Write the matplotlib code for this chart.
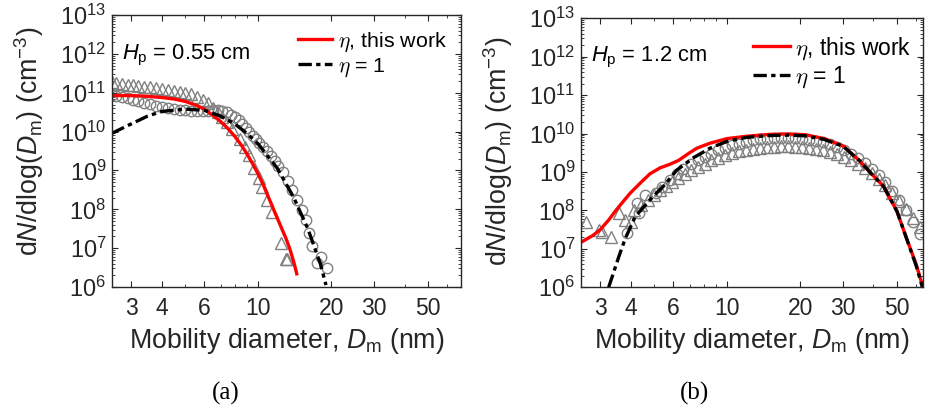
import numpy as np
import matplotlib
matplotlib.use("Agg")
import matplotlib.pyplot as plt
from matplotlib.font_manager import FontProperties
from matplotlib.ticker import FixedLocator, NullFormatter, LogLocator

plt.rcParams['font.family'] = 'Liberation Sans'
plt.rcParams['mathtext.fontset'] = 'custom'
plt.rcParams['mathtext.rm'] = 'Liberation Sans'
plt.rcParams['mathtext.it'] = 'Liberation Sans:italic'
plt.rcParams['axes.linewidth'] = 1.0

# ---- panel (a): Hp = 0.55 cm, values are log10(dN/dlogDm) ----
tri_a_d = [2.5, 2.6, 2.75, 2.9, 3.05, 3.2, 3.4, 3.6, 3.8, 4.0, 4.25, 4.5, 4.75,
           5.0, 5.3, 5.6, 5.9, 6.2, 6.5, 6.8, 7.1, 7.4, 7.8, 8.4, 8.8, 9.2,
           9.6, 10.1, 10.4, 10.9, 11.4, 12.4, 13.0, 13.1]
tri_a_log = [11.27, 11.25, 11.23, 11.21, 11.19, 11.17, 11.15, 11.14, 11.12, 11.10,
             11.08, 11.05, 11.03, 11.00, 10.97, 10.90, 10.82, 10.73, 10.60, 10.50,
             10.38, 10.24, 10.06, 9.80, 9.60, 9.39, 9.06, 8.80, 8.57, 8.24, 7.93,
             7.13, 6.72, 6.72]

cir_a_d = [2.5, 2.6, 2.75, 2.9, 3.05, 3.2, 3.4, 3.6, 3.8, 4.0, 4.25, 4.5, 4.75,
           5.0, 5.3, 5.6, 5.9, 6.2, 6.5, 6.8, 7.1, 7.4, 7.7, 8.0, 8.3, 8.6, 8.9,
           9.2, 9.5, 9.8, 10.1, 10.5, 10.9, 11.3, 11.7, 12.1, 12.6, 13.2, 13.8,
           14.5, 15.2, 15.7, 16.1, 16.7, 17.5, 18.2, 19.2]
cir_a_log = [10.95, 10.93, 10.90, 10.86, 10.82, 10.78, 10.74, 10.70, 10.66, 10.63,
             10.60, 10.58, 10.56, 10.55, 10.54, 10.53, 10.53, 10.54, 10.56, 10.56,
             10.54, 10.50, 10.44, 10.37, 10.29, 10.20, 10.10, 10.00, 9.90, 9.82,
             9.72, 9.60, 9.50, 9.38, 9.25, 9.12, 8.95, 8.72, 8.50, 8.25, 7.98,
             7.72, 7.40, 7.05, 6.62, 6.77, 6.49]

red_a_d = [2.5, 3.0, 3.5, 4.0, 4.5, 5.0, 5.5, 6.0, 6.5, 7.0, 7.5, 8.0, 8.5, 9.0,
           9.5, 10.0, 10.5, 11.0, 11.5, 12.0, 12.5, 13.0, 13.5, 14.0, 14.4]
red_a_log = [10.93, 10.93, 10.91, 10.88, 10.84, 10.78, 10.69, 10.58, 10.42, 10.26,
             10.08, 9.88, 9.66, 9.42, 9.16, 8.90, 8.62, 8.32, 8.03, 7.76, 7.50,
             7.25, 6.97, 6.64, 6.34]

blk_a_d = [2.5, 3.0, 3.5, 4.0, 5.0, 6.0, 7.0, 8.0, 9.0, 10.0, 12.0, 14.0, 16.0, 18.0, 19.0]
blk_a_log = [9.96, 10.20, 10.40, 10.52, 10.58, 10.55, 10.40, 10.20, 9.95, 9.68,
             9.05, 8.30, 7.50, 6.60, 6.05]

# ---- panel (b): Hp = 1.2 cm ----
tri_b_d = [2.61, 2.96, 3.06, 3.31, 3.58, 3.81, 4.0, 4.12, 4.4, 4.7, 5.0, 5.3, 5.6,
           5.9, 6.3, 6.7, 7.1, 7.6, 8.1, 8.6, 9.2, 9.8, 10.5, 11.2, 12.0, 12.8,
           13.7, 14.6, 15.6, 16.7, 17.8, 19.0, 20.3, 21.7, 23.2, 24.8, 26.5, 28.3,
           30.2, 32.3, 34.5, 36.8, 39.3, 42.0, 44.8, 47.9, 51.1, 54.6, 58.3, 62.3]
tri_b_log = [7.71, 7.50, 7.45, 7.32, 7.93, 7.76, 7.71, 8.02, 8.15, 8.27, 8.40, 8.52,
             8.63, 8.74, 8.85, 8.96, 9.05, 9.14, 9.22, 9.30, 9.37, 9.43, 9.49, 9.54,
             9.58, 9.61, 9.63, 9.65, 9.66, 9.67, 9.67, 9.66, 9.65, 9.63, 9.60, 9.57,
             9.52, 9.47, 9.40, 9.31, 9.21, 9.10, 8.97, 8.82, 8.65, 8.46, 8.25, 8.03,
             7.80, 7.56]

cir_b_d = [3.88, 4.26, 4.33, 4.6, 5.07, 5.4, 5.8, 6.2, 6.6, 7.1, 7.6, 8.1, 8.6, 9.2,
           9.8, 10.5, 11.2, 12.0, 12.8, 13.7, 14.6, 15.6, 16.7, 17.8, 19.0, 20.3,
           21.7, 23.2, 24.8, 26.5, 28.3, 30.2, 32.3, 34.5, 36.8, 39.3, 42.0, 44.8,
           47.9, 51.1, 54.6, 58.3, 62.3]
cir_b_log = [7.41, 8.20, 7.93, 8.41, 8.46, 8.62, 8.80, 8.95, 9.07, 9.20, 9.30, 9.40,
             9.48, 9.56, 9.63, 9.69, 9.74, 9.78, 9.82, 9.85, 9.87, 9.88, 9.89, 9.89,
             9.88, 9.86, 9.84, 9.81, 9.77, 9.72, 9.65, 9.57, 9.48, 9.37, 9.24, 9.09,
             8.92, 8.73, 8.51, 8.27, 8.00, 7.70, 7.38]

red_b_d = [2.5, 2.8, 3.0, 3.25, 3.5, 3.75, 4.0, 4.4, 4.8, 5.3, 5.8, 6.3, 7.0, 7.5,
           8.5, 10.0, 12.0, 15.0, 18.0, 21.0, 25.0, 30.0, 35.0, 40.0, 44.0, 50.0,
           55.0, 60.0, 64.0]
red_b_log = [7.17, 7.35, 7.50, 7.75, 8.02, 8.25, 8.46, 8.72, 8.95, 9.11, 9.20, 9.30,
             9.50, 9.62, 9.75, 9.87, 9.93, 9.98, 9.99, 9.97, 9.87, 9.68, 9.30, 8.90,
             8.63, 7.98, 7.24, 6.60, 6.00]

blk_b_d = [3.25, 3.58, 3.81, 4.19, 4.9, 5.5, 6.2, 7.3, 8.5, 10.0, 12.0, 15.0, 18.0,
           21.0, 25.0, 30.0, 35.0, 40.0, 44.0, 50.0, 55.0, 60.0, 64.0]
blk_b_log = [6.00, 6.80, 7.28, 7.85, 8.33, 8.65, 9.05, 9.38, 9.62, 9.80, 9.90, 9.95,
             9.96, 9.94, 9.85, 9.67, 9.30, 8.90, 8.63, 7.98, 7.24, 6.56, 5.95]

xticks = [3, 4, 6, 10, 20, 30, 50]
gray = '#808080'
axcol = '#262626'

fig = plt.figure(figsize=(9.25, 4.12), dpi=100)
ax_a = fig.add_axes([0.1211, 0.3034, 0.3773, 0.6598])
ax_b = fig.add_axes([0.6281, 0.3027, 0.3697, 0.6529])

# axes, data, Hp text, x range, tag + its x, legend size/anchor, label spots
panels = [
    (ax_a, tri_a_d, tri_a_log, cir_a_d, cir_a_log, red_a_d, red_a_log,
     blk_a_d, blk_a_log, r'$H_{\rm p}$ = 0.55 cm', (2.5, 68.3), '(a)', 0.244,
     15.4, (0.533, 0.945), (-0.212, 0.535), -0.224),
    (ax_b, tri_b_d, tri_b_log, cir_b_d, cir_b_log, red_b_d, red_b_log,
     blk_b_d, blk_b_log, r'$H_{\rm p}$ = 1.2 cm', (2.5, 64.0), '(b)', 0.751,
     16.5, (0.503, 0.937), (-0.216, 0.505), -0.226),
]

for (ax, td, tl, cd, cl, rd, rl, bd, bl, hp, xl, tag, tag_x,
     legsize, leganchor, ylab_xy, xlab_y) in panels:
    ax.plot(td, 10 ** np.array(tl), linestyle='none', marker='^', ms=8,
            mfc='none', mec=gray, mew=1.0)
    ax.plot(cd, 10 ** np.array(cl), linestyle='none', marker='o', ms=7.5,
            mfc='none', mec=gray, mew=1.0)
    ax.plot(rd, 10 ** np.array(rl), color='#ff0000', lw=2.4,
            label=r'$\eta$, this work')
    ax.plot(bd, 10 ** np.array(bl), color='black', lw=2.4,
            linestyle=(0, (4, 1.3, 1.3, 1.3)), label=r'$\eta$ = 1')

    ax.set_xscale('log')
    ax.set_yscale('log')
    ax.set_xlim(*xl)
    ax.set_ylim(1e6, 1e13)
    ax.xaxis.set_major_locator(FixedLocator(xticks))
    ax.set_xticklabels([str(t) for t in xticks])
    ax.xaxis.set_minor_locator(FixedLocator([5, 7, 8, 9, 40, 60]))
    ax.xaxis.set_minor_formatter(NullFormatter())
    ax.yaxis.set_major_locator(LogLocator(base=10, numticks=10))
    ax.yaxis.set_minor_locator(LogLocator(base=10, subs=np.arange(2, 10), numticks=20))
    ax.yaxis.set_minor_formatter(NullFormatter())

    ax.tick_params(which='both', direction='in', top=True, right=True,
                   color=axcol, labelcolor=axcol)
    ax.tick_params(which='major', length=4, width=0.8)
    ax.tick_params(which='minor', length=2, width=0.6)
    ax.tick_params(axis='x', which='major', pad=7, labelsize=16.5)
    ax.tick_params(axis='y', which='major', pad=4, labelsize=17)
    for s in ax.spines.values():
        s.set_color(axcol)

    ax.set_xlabel(r'Mobility diameter, $D_{\rm m}$ (nm)', fontsize=19.3, color=axcol)
    ax.set_ylabel(r'd$N$/dlog($D_{\rm m}$) (cm$^{-3}$)', fontsize=19.3, color=axcol)
    ax.xaxis.set_label_coords(0.5, xlab_y)
    ax.xaxis.label.set_va('baseline')
    ax.yaxis.set_label_coords(*ylab_xy)
    ax.yaxis.label.set_va('baseline')

    ax.text(0.028, 0.838, hp, transform=ax.transAxes, fontsize=15.75,
            color='black', va='baseline')
    leg_font = FontProperties(family='Liberation Sans', size=legsize,
                              math_fontfamily='cm')
    ax.legend(loc='upper left', bbox_to_anchor=leganchor, frameon=False,
              prop=leg_font, handlelength=1.6, handletextpad=0.25,
              labelspacing=0.12, borderpad=0, borderaxespad=0)

    fig.text(tag_x, 0.03, tag, ha='center', va='baseline',
             fontsize=18, family='Liberation Serif')

fig.savefig('out.png', dpi=100)
